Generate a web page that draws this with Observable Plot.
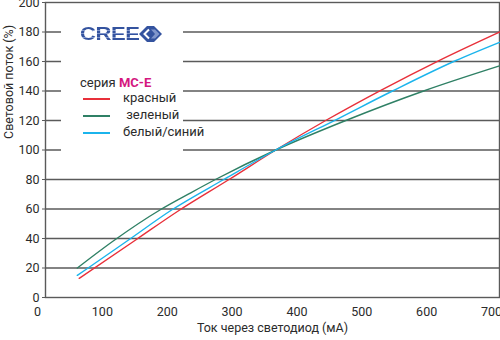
<!DOCTYPE html>
<html>
<head>
<meta charset="utf-8">
<script src="https://cdn.jsdelivr.net/npm/d3@7"></script>
<script src="https://cdn.jsdelivr.net/npm/@observablehq/plot@0.6"></script>
<style>
  body { margin: 0; background: #fff; }
  #wrap { position: relative; width: 500px; height: 340px; font-family: Roboto, "Liberation Sans", sans-serif; }
  #legend { position: absolute; left: 61px; top: 12px; width: 122px; height: 144px; background: #fff; }
  .logo { position: absolute; left: 19px; top: 12px; font-family: "Liberation Sans", Arial, sans-serif; font-weight: bold; font-size: 19px; line-height: 19px;
          transform: scaleX(1.16); transform-origin: 0 0; letter-spacing: -0.4px;
          background: repeating-linear-gradient(to bottom, #34539f 0px, #34539f 2.6px, #8096cb 2.6px, #8096cb 3.4px);
          -webkit-background-clip: text; background-clip: text; color: transparent; }
  .diamond { position: absolute; left: 78px; top: 14px; }
  .series { position: absolute; left: 19px; top: 63px; font-size: 13px; color: #2b2b2b; }
  .series b { color: #d4187f; }
  .row { position: absolute; left: 22px; font-size: 13px; color: #2b2b2b; white-space: nowrap; }
  .row span.sw { position: absolute; left: 0; width: 27px; height: 1.6px; }
  .row span.tx { position: absolute; left: 40px; top: 0; }
</style>
</head>
<body>
<div id="wrap"></div>
<script>
// ---- data ----
const xTicks = [0, 100, 200, 300, 400, 500, 600, 700];
const yTicks = [0, 20, 40, 60, 80, 100, 120, 140, 160, 180, 200];
const seriesNames = ["красный", " зеленый", "белый/синий"];
const seriesColors = ["#e8303a", "#2f8065", "#1bb4ec"];

const redCurrent   = [52, 139, 204, 283, 355, 434, 517, 563, 606, 700];
const redFlux      = [13, 39, 58.5, 80, 100, 120.5, 140.5, 151, 160.5, 180];
const greenCurrent = [49, 105, 177, 224, 262, 355, 463, 583, 700];
const greenFlux    = [20, 38.5, 59.5, 71, 80, 100, 120, 140, 157];
const blueCurrent  = [49, 64, 128, 195, 275, 355, 450, 535, 632, 700];
const blueFlux     = [15, 19.5, 39, 59.5, 80, 100, 121, 140, 160.5, 173];

const xTitle = "Ток через светодиод (мА)";
const yTitle = "Световой поток (%)";
const seriesLabel = "серия";
const seriesModel = "MC-E";
const brand = "CREE";

// ---- build ----
const pts = (xs, ys, name) => xs.map((x, i) => ({current: x, flux: ys[i], name}));
const rows = [
  ...pts(redCurrent, redFlux, seriesNames[0]),
  ...pts(greenCurrent, greenFlux, seriesNames[1]),
  ...pts(blueCurrent, blueFlux, seriesNames[2])
];
const font = 'Roboto, "Liberation Sans", sans-serif';

const chart = Plot.plot({
  width: 500,
  height: 340,
  marginLeft: 45,
  marginRight: 1,
  marginTop: 2,
  marginBottom: 43,
  style: {fontFamily: font, fontSize: "12.5px", color: "#2b2b2b", background: "#fff"},
  x: {domain: [0, 700]},
  y: {domain: [0, 200]},
  color: {domain: seriesNames, range: seriesColors},
  marks: [
    Plot.ruleY(yTicks.filter(d => d > 0 && d < 200), {stroke: "#5a5a5a", strokeWidth: 1.4}),
    Plot.frame({stroke: "#5a5a5a", strokeWidth: 1.4}),
    Plot.line(rows, {x: "current", y: "flux", z: "name", stroke: "name", strokeWidth: 1.4, curve: "monotone-x"}),
    Plot.axisX(xTicks, {tickSize: 0, tickPadding: 10, dx: -8, fontSize: 12.5, fill: "#2b2b2b", label: null}),
    Plot.axisY(yTicks, {tickSize: 3, tickPadding: 3, stroke: "#5a5a5a", fontSize: 12.5, fill: "#2b2b2b", label: null}),
    Plot.text([xTitle], {frameAnchor: "bottom", dy: 34, fontSize: 12.5, fill: "#2b2b2b"}),
    Plot.text([yTitle], {frameAnchor: "left", dx: -37, dy: -11, rotate: -90, fontSize: 12.5, fill: "#2b2b2b"})
  ]
});

const wrap = document.getElementById("wrap");
wrap.appendChild(chart);

// legend box (covers grid lines like the original)
const leg = document.createElement("div");
leg.id = "legend";
const logo = document.createElement("div");
logo.className = "logo";
logo.textContent = brand;
leg.appendChild(logo);
const dia = document.createElement("div");
dia.className = "diamond";
dia.innerHTML = `<svg width="23" height="16" viewBox="0 0 23 16">
  <polygon points="8,0 15,0 23,8 15,16 8,16 0,8" fill="#34539f"/>
  <polyline points="10,3.5 5.5,8 10,12.5" fill="none" stroke="#fff" stroke-width="2"/>
  <polygon points="12,3.5 16,3.5 20.5,8 16,12.5 12,12.5 16,8" fill="#8096cb"/>
</svg>`;
leg.appendChild(dia);
const ser = document.createElement("div");
ser.className = "series";
ser.innerHTML = `${seriesLabel} <b>${seriesModel}</b>`;
leg.appendChild(ser);
seriesNames.forEach((n, i) => {
  const r = document.createElement("div");
  r.className = "row";
  r.style.top = (78 + i * 17.2) + "px";
  r.innerHTML = `<span class="sw" style="top:8px;background:${seriesColors[i]}"></span><span class="tx">${n.replace(/^ /, "&nbsp;")}</span>`;
  leg.appendChild(r);
});
wrap.appendChild(leg);
</script>
</body>
</html>
